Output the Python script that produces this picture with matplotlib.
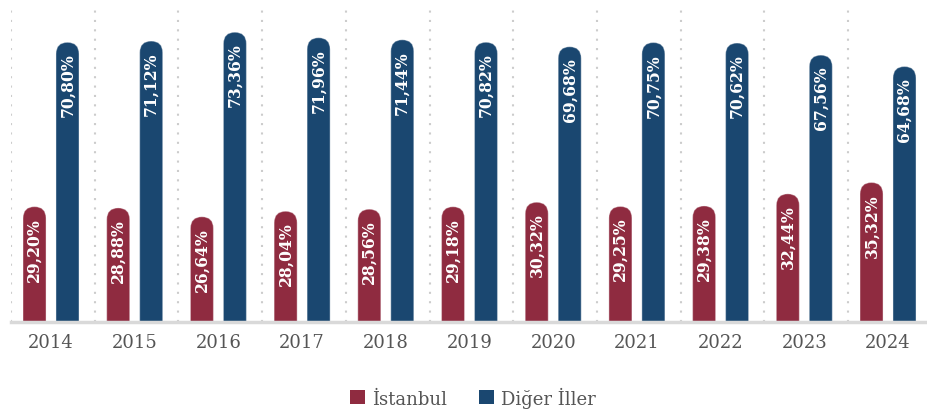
import matplotlib
matplotlib.use("Agg")
import matplotlib.pyplot as plt
from matplotlib.patches import FancyBboxPatch, Patch

years = ["2014", "2015", "2016", "2017", "2018", "2019", "2020", "2021", "2022", "2023", "2024"]
istanbul = [29.20, 28.88, 26.64, 28.04, 28.56, 29.18, 30.32, 29.25, 29.38, 32.44, 35.32]
diger = [70.80, 71.12, 73.36, 71.96, 71.44, 70.82, 69.68, 70.75, 70.62, 67.56, 64.68]

RED = "#8F2B40"
BLUE = "#1A4770"
FONT = "DejaVu Serif"

W, H = 928, 414
fig = plt.figure(figsize=(W / 100, H / 100), dpi=100)
ax = fig.add_axes([11 / W, 91 / H, 917 / W, 318 / H])

ymax = 80.5
xlo = -0.478
xhi = xlo + 917 / 83.7
ax.set_xlim(xlo, xhi)
ax.set_ylim(0, ymax)

# aspect so the top caps come out as half circles
px_x = 917 / (xhi - xlo)
px_y = 318 / ymax
aspect = px_x / px_y

bw = 0.275
off = 0.197


def rounded_bar(x, h, color):
    r = bw / 2
    p = FancyBboxPatch((x - bw / 2, -r * aspect * 2), bw, h + r * aspect * 2,
                       boxstyle="round,pad=0,rounding_size=%f" % r,
                       mutation_aspect=aspect, facecolor=color,
                       edgecolor=(1, 1, 1, 0.35), linewidth=0.8)
    ax.add_patch(p)


for i in range(len(years)):
    for x, v, c in [(i - off, istanbul[i], RED), (i + off, diger[i], BLUE)]:
        rounded_bar(x, v, c)
        ax.annotate(("%.2f%%" % v).replace(".", ","), (x, v), xytext=(0, -7.5),
                    textcoords="offset points", rotation=90, ha="center", va="top",
                    color="white", fontsize=12.5, fontweight="bold",
                    fontstretch="condensed", family=FONT)

# dotted separators between years
for i in range(len(years)):
    ax.axvline(i - 0.478, color="#cccccc", linestyle=(0, (1, 3.5)), linewidth=1.5, zorder=0)

for s in ["top", "right", "left"]:
    ax.spines[s].set_visible(False)
ax.spines["bottom"].set_color("#d9d9d9")
ax.spines["bottom"].set_linewidth(2.5)
ax.set_yticks([])
ax.set_xticks(range(len(years)))
ax.set_xticklabels(years, family=FONT, fontsize=13, color="#555555")
ax.tick_params(axis="x", length=0, pad=8)

handles = [Patch(facecolor=RED, label="İstanbul"), Patch(facecolor=BLUE, label="Diğer İller")]
fig.legend(handles=handles, loc="center", bbox_to_anchor=(473 / W, 16 / H), ncol=2,
           frameon=False, prop={"family": FONT, "size": 13}, labelcolor="#555555",
           handlelength=0.8, handleheight=0.8, handletextpad=0.4, columnspacing=1.8)

fig.savefig("out.png", dpi=100)
